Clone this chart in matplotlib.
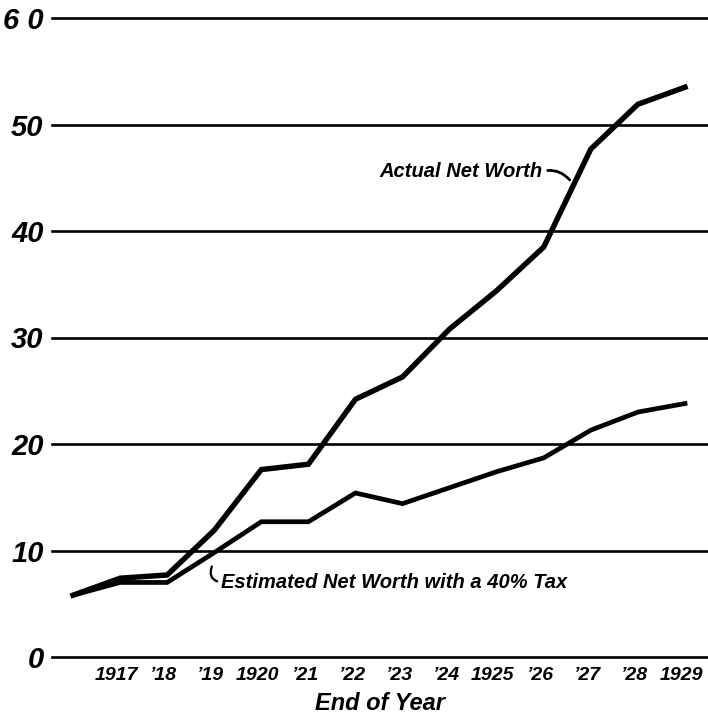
import matplotlib
matplotlib.use("Agg")
import matplotlib.pyplot as plt
import matplotlib.transforms as mtransforms

years = [1916, 1917, 1918, 1919, 1920, 1921, 1922, 1923, 1924, 1925, 1926, 1927, 1928, 1929]
actual = [5.8, 7.4, 7.7, 11.9, 17.6, 18.1, 24.2, 26.3, 30.8, 34.4, 38.5, 47.7, 51.9, 53.5]
estimated = [5.8, 7.0, 7.0, 9.8, 12.7, 12.7, 15.4, 14.4, 15.9, 17.4, 18.7, 21.3, 23.0, 23.8]
tick_years = [1917, 1918, 1919, 1920, 1921, 1922, 1923, 1924, 1925, 1926, 1927, 1928, 1929]
tick_labels = ["1917", "\u201918", "\u201919", "1920", "\u201921", "\u201922", "\u201923",
               "\u201924", "1925", "\u201926", "\u201927", "\u201928", "1929"]
y_ticks = [0, 10, 20, 30, 40, 50, 60]
y_labels = ["0", "10", "20", "30", "40", "50", "6 0"]

FONT = ["Liberation Sans", "DejaVu Sans"]

fig = plt.figure(figsize=(7.08, 7.16), dpi=100)
W, H = 708, 716
left, right = 52, 708
top, bottom = 18, 657
ax = fig.add_axes([left / W, (H - bottom) / H, (right - left) / W, (bottom - top) / H])
x_per_year = 47.08
ax.set_xlim(1916 - (73 - left) / x_per_year, 1929 + (right - 685) / x_per_year)
ax.set_ylim(0, 60)
for s in ax.spines.values():
    s.set_visible(False)

for yv in y_ticks:
    ax.axhline(yv, color="black", lw=1.9, clip_on=False, zorder=1)

ax.plot(years, actual, color="black", lw=3.9, solid_joinstyle="miter", zorder=3)
ax.plot(years, estimated, color="black", lw=3.4, solid_joinstyle="miter", zorder=3)

ax.set_yticks(y_ticks)
ax.set_yticklabels(y_labels)
ax.set_xticks(tick_years)
ax.set_xticklabels(tick_labels)
ax.tick_params(axis="both", length=0)
ax.tick_params(axis="y", pad=6)
ax.tick_params(axis="x", pad=7)
for lab in ax.get_yticklabels():
    lab.set_fontfamily(FONT)
    lab.set_fontsize(21)
    lab.set_fontstyle("italic")
    lab.set_fontweight("bold")
shift = mtransforms.ScaledTranslation(-4 / 100, 0, fig.dpi_scale_trans)
for lab in ax.get_xticklabels():
    lab.set_fontfamily(FONT)
    lab.set_fontsize(14)
    lab.set_fontstyle("italic")
    lab.set_fontweight("bold")
    lab.set_transform(lab.get_transform() + shift)

fig.text(380 / W, (H - 703) / H, "End of Year", fontfamily=FONT, fontsize=17,
         fontstyle="italic", fontweight="bold", ha="center", va="center")

ax.annotate("Actual Net Worth", xy=(1926.55, 44.8), xytext=(1922.5, 45.6),
            fontfamily=FONT, fontsize=14.5, fontstyle="italic", fontweight="bold",
            va="center", ha="left",
            arrowprops=dict(arrowstyle="-", lw=2, color="black", relpos=(1, 0.5),
                            shrinkA=2, shrinkB=0, connectionstyle="arc3,rad=-0.3"))
ax.annotate("Estimated Net Worth with a 40% Tax", xy=(1918.95, 8.5), xytext=(1919.15, 7.0),
            fontfamily=FONT, fontsize=14.5, fontstyle="italic", fontweight="bold",
            va="center", ha="left",
            arrowprops=dict(arrowstyle="-", lw=1.6, color="black", relpos=(0, 0.5),
                            shrinkA=1, shrinkB=0, connectionstyle="arc3,rad=-0.6"))

fig.savefig("out.png", dpi=100, facecolor="white")
